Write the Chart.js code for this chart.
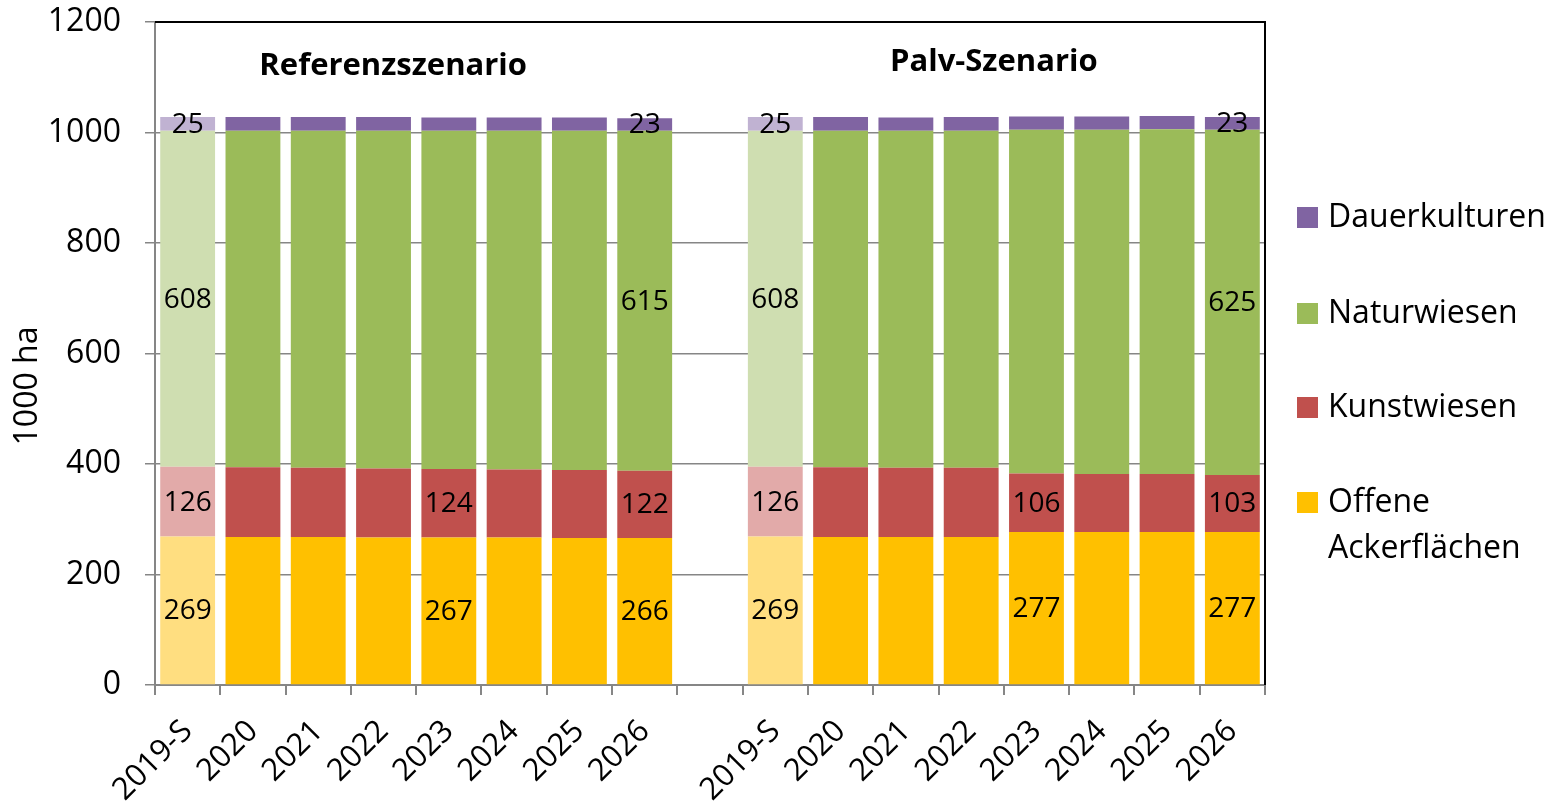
<!DOCTYPE html>
<html>
<head>
<meta charset="utf-8">
<script src="https://cdn.jsdelivr.net/npm/chart.js@4"></script>
<style>
  html, body { margin: 0; padding: 0; background: #fff; }
  canvas { display: block; }
</style>
</head>
<body>
<canvas id="c" width="1565" height="809"></canvas>
<script>
// ---- data ----
const years = ['2019-S', '2020', '2021', '2022', '2023', '2024', '2025', '2026'];
const categories = years.concat([''], years);

const seriesNames = ['Dauerkulturen', 'Naturwiesen', 'Kunstwiesen', 'Offene Ackerflächen'];

const refAcker = [269, 268, 268, 267, 267, 267, 266, 266];
const refKunst = [126, 126, 125, 125, 124, 123, 123, 122];
const refNatur = [608, 609, 610, 611, 612, 613, 614, 615];
const refDauer = [25, 25, 25, 25, 24, 24, 24, 23];

const palvAcker = [269, 268, 268, 268, 277, 277, 277, 277];
const palvKunst = [126, 126, 125, 125, 106, 105, 105, 103];
const palvNatur = [608, 609, 610, 610, 622, 623, 624, 625];
const palvDauer = [25, 25, 24, 25, 24, 24, 24, 23];

const yTicks = [0, 200, 400, 600, 800, 1000, 1200];

// indices of bars whose segment carries a value label
const labelIdxDauer = [0, 7, 9, 16];
const labelIdxNatur = [0, 7, 9, 16];
const labelIdxKunst = [0, 4, 7, 9, 13, 16];
const labelIdxAcker = [0, 4, 7, 9, 13, 16];

const groupTitles = ['Referenzszenario', 'Palv-Szenario'];
const yTitle = '1000 ha';

// ---- styling ----
const FONT = "'Open Sans', 'Liberation Sans', sans-serif";
const colors = ['#8064A2', '#9BBB59', '#C0504D', '#FFC000'];
const lightColors = ['#C0B2D2', '#CFDEB1', '#E2AAA9', '#FFDE80'];
const lightIdx = [0, 9];

function joinSeries(a, b) { return a.concat([null], b); }
function colorArr(i) {
  return categories.map((_, k) => lightIdx.includes(k) ? lightColors[i] : colors[i]);
}

const acker = joinSeries(refAcker, palvAcker);
const kunst = joinSeries(refKunst, palvKunst);
const natur = joinSeries(refNatur, palvNatur);
const dauer = joinSeries(refDauer, palvDauer);

const datasets = [
  { label: seriesNames[3], data: acker, backgroundColor: colorArr(3), labelIdx: labelIdxAcker },
  { label: seriesNames[2], data: kunst, backgroundColor: colorArr(2), labelIdx: labelIdxKunst },
  { label: seriesNames[1], data: natur, backgroundColor: colorArr(1), labelIdx: labelIdxNatur },
  { label: seriesNames[0], data: dauer, backgroundColor: colorArr(0), labelIdx: labelIdxDauer },
].map(d => Object.assign(d, { barPercentage: 0.84, categoryPercentage: 1.0, borderWidth: 0 }));

const decorPlugin = {
  id: 'decor',
  afterDatasetsDraw(chart) {
    const ctx = chart.ctx;
    ctx.save();
    ctx.fillStyle = '#000';
    ctx.font = '28px ' + FONT;
    ctx.textAlign = 'center';
    ctx.textBaseline = 'middle';
    chart.data.datasets.forEach((ds, di) => {
      const meta = chart.getDatasetMeta(di);
      ds.labelIdx.forEach(idx => {
        const el = meta.data[idx];
        if (!el || ds.data[idx] == null) return;
        const cy = (el.y + el.base) / 2;
        ctx.fillText(String(ds.data[idx]), el.x, cy + 1);
      });
    });
    ctx.restore();
  },
  afterDraw(chart) {
    const ctx = chart.ctx;
    const a = chart.chartArea;
    const xs = chart.scales.x;
    ctx.save();
    // black top & right frame
    ctx.strokeStyle = '#000';
    ctx.lineWidth = 2;
    ctx.beginPath();
    ctx.moveTo(a.left, a.top);
    ctx.lineTo(a.right, a.top);
    ctx.lineTo(a.right, a.bottom);
    ctx.stroke();

    // group titles
    ctx.fillStyle = '#000';
    ctx.font = 'bold 31px ' + FONT;
    ctx.textAlign = 'center';
    ctx.textBaseline = 'middle';
    ctx.fillText(groupTitles[0], xs.getPixelForValue(3.5) - 23, 66);
    ctx.fillText(groupTitles[1], xs.getPixelForValue(12.5) - 10, 62);

    // y axis title
    ctx.save();
    ctx.translate(28, 386);
    ctx.rotate(-Math.PI / 2);
    ctx.font = '32px ' + FONT;
    ctx.fillText(yTitle, 0, 0);
    ctx.restore();

    // legend
    const legendItems = [
      { lines: [seriesNames[0]], color: colors[0], y: 217 },
      { lines: [seriesNames[1]], color: colors[1], y: 313 },
      { lines: [seriesNames[2]], color: colors[2], y: 407 },
      { lines: ['Offene', 'Ackerflächen'], color: colors[3], y: 502 },
    ];
    ctx.font = '32px ' + FONT;
    ctx.textAlign = 'left';
    legendItems.forEach(it => {
      ctx.fillStyle = it.color;
      ctx.fillRect(1297, it.y - 10, 21, 21);
      ctx.fillStyle = '#000';
      it.lines.forEach((t, i) => ctx.fillText(t, 1328, it.y + 1 + i * 46));
    });
    ctx.restore();
  }
};

new Chart(document.getElementById('c'), {
  type: 'bar',
  data: { labels: categories, datasets },
  options: {
    responsive: false,
    devicePixelRatio: 1,
    animation: false,
    layout: { padding: { top: 22, right: 300, left: 0, bottom: 0 } },
    plugins: { legend: { display: false }, tooltip: { enabled: false } },
    scales: {
      x: {
        stacked: true,
        offset: true,
        grid: { offset: true, drawOnChartArea: false, drawTicks: true, tickLength: 10, color: '#868686', lineWidth: 2 },
        border: { color: '#868686', width: 2 },
        ticks: { minRotation: 45, maxRotation: 45, autoSkip: false, color: '#000', font: { size: 31, family: FONT }, padding: 18 },
        afterFit(s) { s.height = 124; s.paddingLeft = 0; s.paddingRight = 0; }
      },
      y: {
        stacked: true,
        min: 0,
        max: 1200,
        afterBuildTicks(s) { s.ticks = yTicks.map(v => ({ value: v })); },
        grid: { color: '#868686', lineWidth: 1.5, tickLength: 10 },
        border: { color: '#868686', width: 2 },
        ticks: { color: '#000', font: { size: 32, family: FONT }, padding: 24, callback: v => String(v) },
        afterFit(s) { s.width = 155; s.paddingTop = 0; s.paddingBottom = 0; }
      }
    }
  },
  plugins: [decorPlugin]
});
</script>
</body>
</html>
